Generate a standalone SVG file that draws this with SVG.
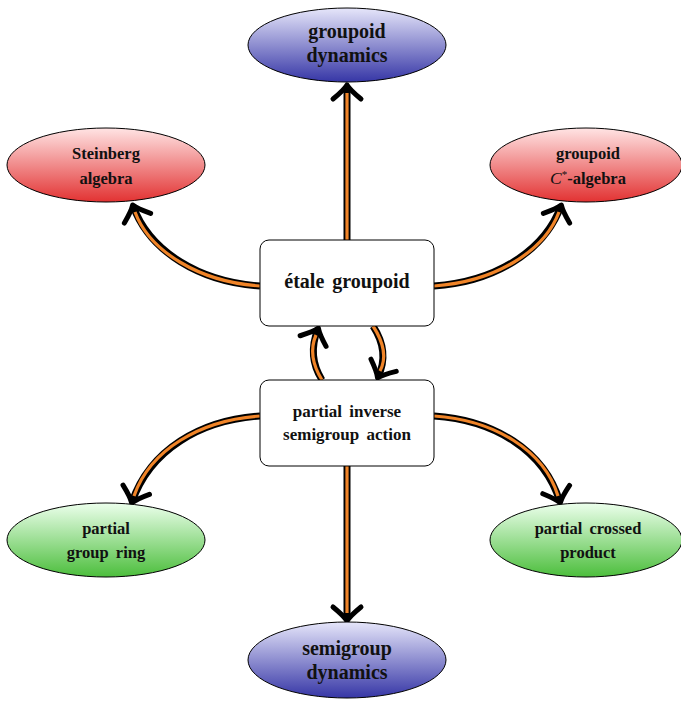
<svg xmlns="http://www.w3.org/2000/svg" width="681" height="701" viewBox="0 0 681 701">
<defs>
<linearGradient id="gBlue" x1="0" y1="0" x2="0" y2="1"><stop offset="0" stop-color="#e6e6fa"/><stop offset="1" stop-color="#3636a6"/></linearGradient>
<linearGradient id="gRed" x1="0" y1="0" x2="0" y2="1"><stop offset="0" stop-color="#ffe4e4"/><stop offset="1" stop-color="#e23232"/></linearGradient>
<linearGradient id="gGreen" x1="0" y1="0" x2="0" y2="1"><stop offset="0" stop-color="#ecffec"/><stop offset="1" stop-color="#4cbe3c"/></linearGradient>
<marker id="arr" markerUnits="userSpaceOnUse" viewBox="-18 -18 22 36" markerWidth="22" markerHeight="36" refX="0" refY="0" orient="auto" overflow="visible">
<path d="M-13,-14 Q-4,-3 1,0 Q-4,3 -13,14" fill="none" stroke="#000" stroke-width="5" stroke-linecap="round" stroke-linejoin="round"/>
</marker>
<style>
.ell{stroke:#000;stroke-width:1}
.box{fill:#fff;stroke:#000;stroke-width:1}
.t{font-family:"Liberation Serif","Times New Roman",serif;font-weight:bold;fill:#111;text-anchor:middle;word-spacing:3px}
.big{font-size:20px}
.mid{font-size:17px}
.sm{font-size:16.5px}
.out{fill:none;stroke:#000;stroke-width:7}
.in{fill:none;stroke:#f08428;stroke-width:3.2}
</style>
</defs>
<g id="connectors">
<path class="out" marker-end="url(#arr)" d="M347,240 L347,86"/>
<path class="in" d="M347,240 L347,93"/>
<path class="out" marker-end="url(#arr)" d="M260,286 C200,282 150,252 133,206"/>
<path class="in" d="M260,286 C200,282 150,252 135,212"/>
<path class="out" marker-end="url(#arr)" d="M434,286 C494,282 544,252 561,206"/>
<path class="in" d="M434,286 C494,282 544,252 559,212"/>
<path class="out" marker-end="url(#arr)" d="M322,380 Q307,356 318,329"/>
<path class="in" d="M322,380 Q307,356 316,335"/>
<path class="out" marker-end="url(#arr)" d="M373,326 Q390,352 378,377"/>
<path class="in" d="M373,326 Q390,352 380,371"/>
<path class="out" marker-end="url(#arr)" d="M260,416 C200,420 150,450 132,502"/>
<path class="in" d="M260,416 C200,420 150,450 134,496"/>
<path class="out" marker-end="url(#arr)" d="M434,416 C494,420 544,450 560,502"/>
<path class="in" d="M434,416 C494,420 544,450 558,496"/>
<path class="out" marker-end="url(#arr)" d="M347,466 L347,620"/>
<path class="in" d="M347,466 L347,613"/>
</g>
<g id="groupoid-dynamics">
<ellipse class="ell" cx="347" cy="45" rx="99" ry="37" fill="url(#gBlue)"/>
<text class="t big" x="347" y="38">groupoid</text>
<text class="t big" x="347" y="62">dynamics</text>
</g>
<g id="steinberg-algebra">
<ellipse class="ell" cx="106" cy="165" rx="99" ry="37" fill="url(#gRed)"/>
<text class="t sm" x="106" y="159">Steinberg</text>
<text class="t sm" x="106" y="184">algebra</text>
</g>
<g id="groupoid-cstar">
<ellipse class="ell" cx="586" cy="165" rx="96" ry="37" fill="url(#gRed)"/>
<text class="t sm" x="588" y="159">groupoid</text>
<text class="t sm" x="588" y="184"><tspan font-style="italic" font-weight="normal" font-size="17.5">C</tspan><tspan font-weight="normal" font-size="11" dy="-6">*</tspan><tspan dy="6">-algebra</tspan></text>
</g>
<g id="etale-groupoid">
<rect class="box" x="260" y="240" width="174" height="86" rx="9"/>
<text class="t big" x="347" y="288">étale groupoid</text>
</g>
<g id="partial-action">
<rect class="box" x="260" y="380" width="174" height="86" rx="9"/>
<text class="t mid" x="347" y="417">partial inverse</text>
<text class="t mid" x="347" y="440">semigroup action</text>
</g>
<g id="partial-group-ring">
<ellipse class="ell" cx="106" cy="540" rx="99" ry="37" fill="url(#gGreen)"/>
<text class="t sm" x="106" y="534">partial</text>
<text class="t sm" x="106" y="558">group ring</text>
</g>
<g id="partial-crossed-product">
<ellipse class="ell" cx="586" cy="540" rx="96" ry="37" fill="url(#gGreen)"/>
<text class="t sm" x="588" y="534">partial crossed</text>
<text class="t sm" x="588" y="558">product</text>
</g>
<g id="semigroup-dynamics">
<ellipse class="ell" cx="347" cy="660" rx="99" ry="38" fill="url(#gBlue)"/>
<text class="t big" x="347" y="655">semigroup</text>
<text class="t big" x="347" y="679">dynamics</text>
</g>
</svg>
